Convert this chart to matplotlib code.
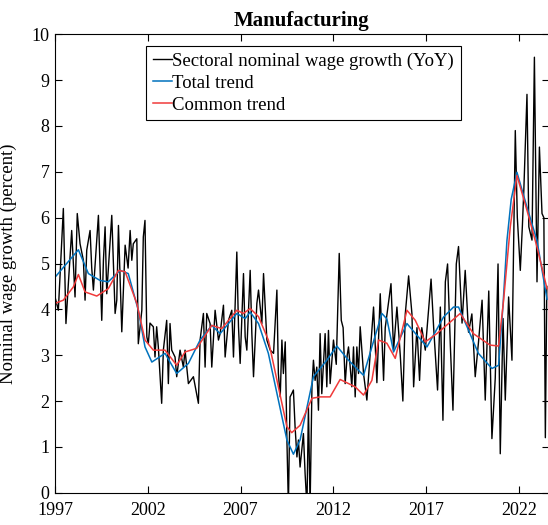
import matplotlib
matplotlib.use("Agg")
import matplotlib.pyplot as plt

plt.rcParams['font.family'] = ['Liberation Serif', 'DejaVu Serif']

# sectoral nominal wage growth (YoY)
wage_years = [
    1997.00, 1997.18, 1997.31, 1997.45, 1997.59, 1997.72, 1997.90, 1998.08, 1998.20, 1998.35,
    1998.53, 1998.62, 1998.71, 1998.89, 1998.98, 1999.07, 1999.34, 1999.52, 1999.61, 1999.70,
    1999.79, 2000.06, 2000.24, 2000.33, 2000.42, 2000.60, 2000.78, 2000.94, 2001.05, 2001.14,
    2001.22, 2001.41, 2001.49, 2001.68, 2001.76, 2001.85, 2001.95, 2002.03, 2002.12, 2002.30,
    2002.39, 2002.48, 2002.57, 2002.75, 2002.84, 2003.02, 2003.11, 2003.20, 2003.29, 2003.47,
    2003.56, 2003.74, 2003.92, 2004.01, 2004.19, 2004.46, 2004.73, 2004.82, 2005.00, 2005.09,
    2005.18, 2005.36, 2005.45, 2005.63, 2005.81, 2005.90, 2006.08, 2006.17, 2006.35, 2006.53,
    2006.62, 2006.80, 2006.89, 2006.98, 2007.16, 2007.25, 2007.34, 2007.52, 2007.61, 2007.70,
    2007.88, 2007.97, 2008.15, 2008.24, 2008.42, 2008.60, 2008.78, 2008.96, 2009.04, 2009.14,
    2009.23, 2009.31, 2009.41, 2009.50, 2009.58, 2009.67, 2009.76, 2009.85, 2009.94, 2010.04,
    2010.12, 2010.21, 2010.39, 2010.48, 2010.58, 2010.66, 2010.75, 2010.85, 2010.93, 2011.02,
    2011.11, 2011.20, 2011.29, 2011.38, 2011.56, 2011.65, 2011.74, 2011.83, 2012.01, 2012.16,
    2012.32, 2012.43, 2012.53, 2012.64, 2012.75, 2012.82, 2013.00, 2013.09, 2013.18, 2013.27,
    2013.36, 2013.45, 2013.63, 2013.81, 2013.99, 2014.17, 2014.35, 2014.53, 2014.71, 2014.80,
    2015.11, 2015.25, 2015.43, 2015.61, 2015.75, 2015.88, 2016.06, 2016.24, 2016.33, 2016.51,
    2016.65, 2016.77, 2016.96, 2017.27, 2017.41, 2017.62, 2017.77, 2017.91, 2018.04, 2018.16,
    2018.31, 2018.45, 2018.63, 2018.75, 2018.94, 2019.11, 2019.29, 2019.47, 2019.65, 2019.83,
    2020.02, 2020.19, 2020.38, 2020.55, 2020.73, 2020.88, 2021.00, 2021.15, 2021.27, 2021.45,
    2021.63, 2021.81, 2021.92, 2022.08, 2022.19, 2022.27, 2022.44, 2022.54, 2022.71, 2022.84,
    2022.98, 2023.11, 2023.25, 2023.35, 2023.43, 2023.51,
]
wage_growth = [
    4.27, 3.98, 5.07, 6.20, 3.69, 4.56, 5.72, 4.27, 6.09, 5.43,
    5.07, 4.20, 5.29, 5.72, 4.90, 4.42, 6.05, 3.76, 5.07, 5.80,
    4.34, 6.05, 3.91, 4.20, 5.83, 3.51, 5.40, 4.90, 5.72, 5.07,
    5.43, 5.54, 3.25, 3.98, 5.58, 5.94, 3.40, 3.25, 3.70, 3.62,
    2.96, 3.62, 3.18, 1.95, 3.11, 3.76, 2.38, 3.69, 3.11, 2.96,
    2.53, 3.11, 2.74, 3.11, 2.38, 2.53, 1.95, 3.33, 3.91, 2.74,
    3.91, 3.69, 2.74, 3.98, 3.33, 3.47, 4.09, 2.96, 3.76, 3.98,
    2.96, 5.25, 3.62, 2.82, 4.78, 3.40, 3.11, 4.85, 3.47, 2.53,
    4.13, 4.42, 3.69, 4.78, 3.33, 3.11, 3.04, 4.42, 2.60, 2.09,
    3.33, 2.60, 3.29, 1.15, -0.30, 2.09, 2.16, 2.24, 1.44, 0.78,
    1.15, 0.56, 1.29, 0.42, -0.30, 1.87, -0.30, 2.31, 2.89, 2.45,
    2.74, 1.80, 3.47, 2.16, 3.47, 2.31, 3.54, 2.38, 3.33, 2.80,
    5.22, 3.76, 3.60, 2.38, 3.00, 3.18, 2.31, 3.18, 2.09, 3.18,
    2.60, 3.62, 2.60, 2.02, 3.04, 4.05, 2.40, 4.34, 2.45, 3.60,
    4.56, 3.11, 4.05, 3.00, 2.00, 3.90, 4.73, 3.90, 2.31, 3.60,
    2.45, 3.60, 3.11, 4.66, 3.60, 2.24, 4.05, 1.58, 4.60, 4.99,
    3.20, 1.80, 4.99, 5.37, 3.70, 4.85, 3.50, 3.90, 2.53, 3.30,
    4.20, 2.02, 4.40, 1.18, 2.50, 4.99, 0.85, 3.80, 2.02, 4.27,
    2.89, 7.90, 6.00, 4.85, 5.80, 6.60, 8.69, 5.80, 5.51, 9.50,
    4.60, 7.54, 6.09, 6.00, 1.20, 4.50,
]

# total trend
total_years = [
    1997.00, 1998.26, 1998.80, 1999.43, 1999.87, 2000.51, 2000.95, 2001.49, 2001.85, 2002.22,
    2002.93, 2003.56, 2004.19, 2004.82, 2005.45, 2005.90, 2006.80, 2007.25, 2007.52, 2007.97,
    2008.50, 2009.04, 2009.50, 2009.85, 2010.21, 2010.93, 2011.65, 2012.19, 2012.82, 2013.63,
    2014.08, 2014.62, 2014.89, 2015.25, 2015.97, 2017.05, 2017.94, 2018.48, 2018.75, 2019.21,
    2019.82, 2020.55, 2020.91, 2021.15, 2021.36, 2021.59, 2021.90, 2022.44, 2022.98, 2023.52,
]
total_trend = [
    4.70, 5.30, 4.78, 4.63, 4.60, 4.85, 4.78, 3.98, 3.18, 2.85,
    3.04, 2.60, 2.82, 3.33, 3.65, 3.47, 3.91, 3.80, 3.94, 3.69,
    3.04, 2.02, 1.15, 0.84, 1.15, 2.53, 2.89, 3.20, 2.89, 2.56,
    3.18, 3.91, 3.79, 3.07, 3.69, 3.18, 3.83, 4.05, 4.05, 3.62,
    3.04, 2.71, 2.78, 4.10, 5.50, 6.40, 6.99, 6.23, 5.50, 4.22,
]

# common trend
common_years = [
    1997.00, 1997.45, 1997.99, 1998.26, 1998.62, 1999.25, 1999.87, 2000.42, 2000.78, 2001.41,
    2001.85, 2002.30, 2002.93, 2003.56, 2004.01, 2004.64, 2005.45, 2005.99, 2006.80, 2007.16,
    2007.52, 2007.97, 2008.50, 2009.04, 2009.50, 2009.76, 2010.21, 2010.85, 2011.29, 2011.83,
    2012.37, 2013.18, 2013.63, 2014.08, 2014.44, 2014.89, 2015.34, 2015.97, 2016.42, 2016.96,
    2017.58, 2018.84, 2019.55, 2020.45, 2020.91, 2021.18, 2021.54, 2021.90, 2022.44, 2022.98,
    2023.52,
]
common_trend = [
    4.13, 4.20, 4.49, 4.76, 4.38, 4.29, 4.45, 4.85, 4.82, 4.13,
    3.33, 3.11, 3.11, 2.78, 3.07, 3.15, 3.65, 3.58, 3.98, 3.91,
    4.02, 3.84, 3.33, 2.31, 1.44, 1.31, 1.47, 2.06, 2.09, 2.09,
    2.47, 2.31, 2.13, 2.45, 3.33, 3.26, 2.93, 3.98, 3.76, 3.29,
    3.47, 3.91, 3.47, 3.22, 3.20, 4.20, 5.80, 6.92, 6.16, 5.36,
    4.45,
]

year_ticks = [1997, 2002, 2007, 2012, 2017, 2022]
value_ticks = list(range(0, 11))

fig = plt.figure(figsize=(5.48, 5.25), dpi=100)
ax = fig.add_axes([55 / 548, 32.3 / 525, 493.5 / 548, 458.4 / 525])

ax.plot(wage_years, wage_growth, color='black', lw=1.0,
        label='Sectoral nominal wage growth (YoY)')
ax.plot(total_years, total_trend, color='#0072BD', lw=1.1, label='Total trend')
ax.plot(common_years, common_trend, color='#F03A3A', lw=1.1, label='Common trend')

ax.set_xlim(1997, 2023.6)
ax.set_ylim(0, 10)
ax.set_xticks(year_ticks)
ax.set_xticklabels([str(y) for y in year_ticks])
ax.set_yticks(value_ticks)
ax.tick_params(direction='in', top=True, right=True, length=5, width=0.8,
               labelsize=13, pad=4)
ax.tick_params(axis='x', pad=7)
for sp in ax.spines.values():
    sp.set_linewidth(0.8)

ax.set_title('Manufacturing', fontsize=15, fontweight='bold', pad=6)
ax.set_ylabel('Nominal wage growth (percent)', fontsize=13.5)
ax.yaxis.set_label_coords(-0.077, 0.5)

leg = ax.legend(loc='upper left', bbox_to_anchor=(0.1844, 0.974), borderaxespad=0,
                fontsize=13.5, handlelength=1.05, handletextpad=0.0, labelspacing=0.25,
                borderpad=0.35, fancybox=False, framealpha=1, edgecolor='black')
leg.get_frame().set_linewidth(0.8)

fig.savefig('out.png', dpi=100)
